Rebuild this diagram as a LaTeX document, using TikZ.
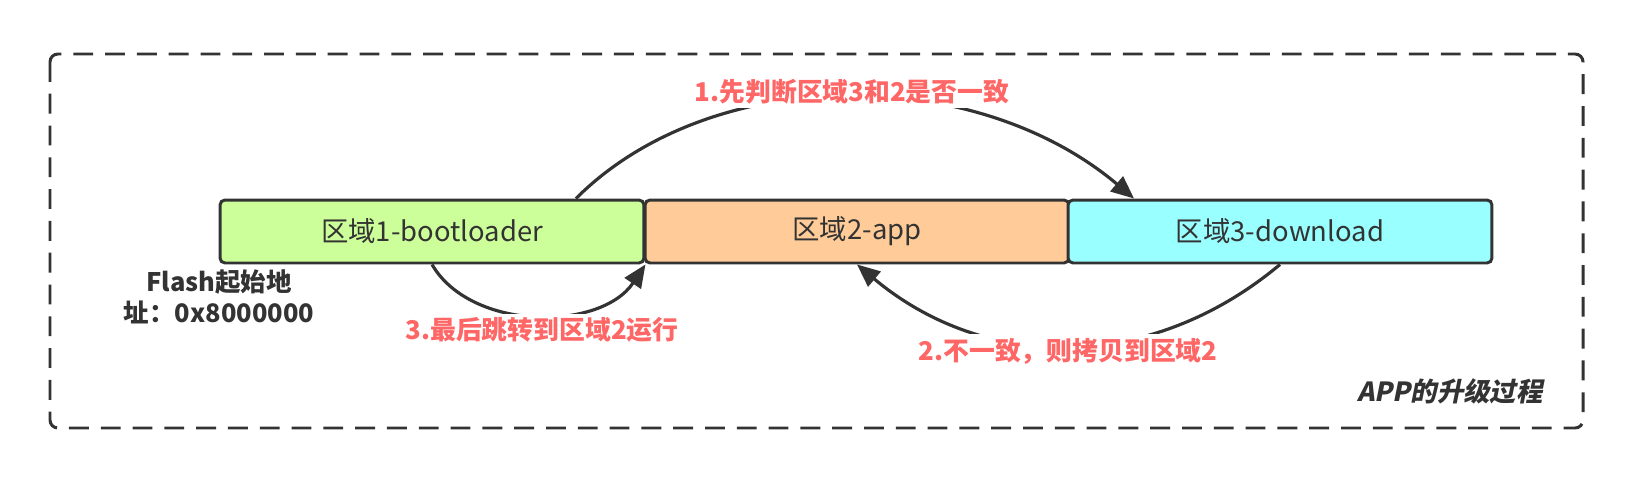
\documentclass[tikz,border=0pt]{standalone}
\usepackage{fontspec}
\setmainfont{Noto Sans CJK SC}
\newfontfamily\titlefont[FakeSlant=0.2]{Noto Sans CJK SC}
\usetikzlibrary{arrows.meta}
\definecolor{darkline}{HTML}{333333}
\definecolor{notered}{HTML}{FF6666}
\definecolor{zonegreen}{HTML}{CCFF99}
\definecolor{zoneorange}{HTML}{FFCC99}
\definecolor{zonecyan}{HTML}{99FFFF}
\begin{document}
\begin{tikzpicture}[x=0.02cm, y=0.02cm, every node/.style={font=\fontsize{15.6}{18}\selectfont, text=darkline}]
        \tikzstyle{zone} = [rectangle, draw=darkline, rounded corners=2.8pt, minimum width=8.48cm, minimum height=1.26cm, line width=1.7pt, inner sep=0pt]
        \tikzstyle{arrow} = [line width=1.8pt, draw=darkline, ->, >={Triangle[length=13pt,width=11pt]}]
        \tikzstyle{note} = [text=notered, font=\fontsize{14.7}{18}\selectfont\bfseries, fill=white, inner sep=2pt]

        \useasboundingbox (0,0) rectangle (1634,478);
        \draw [darkline, line width=1.7pt, dash pattern=on 11.3pt off 6.8pt, rounded corners=4.5pt] (50,424) rectangle (1583,50);

        \node [zone, fill=zonegreen]  (boot)     at (432,246.5)  {区域1-bootloader};
        \node [zone, fill=zoneorange] (app)      at (857,246.5)  {区域2-app};
        \node [zone, fill=zonecyan]   (download) at (1280,246.5) {区域3-download};

        \node [font=\fontsize{14.5}{17.6}\selectfont\bfseries, align=center] (flash) at (219,181) {Flash起始地\\址：0x8000000};
        \node [font=\fontsize{15}{18}\titlefont\bfseries] (title) at (1450,87) {APP的升级过程};

        \draw [arrow] ([xshift=2.88cm]boot.north) .. controls +(135,135) and +(-160,135) .. ([xshift=-2.92cm]download.north);
        \draw [arrow] (download.south) .. controls +(-129,-108) and +(129,-108) .. (app.south);
        \draw [arrow] (boot.south) .. controls +(39,-67) and +(-45,-67) .. (boot.south east);

        \node [note] (check) at (852,386) {1.先判断区域3和2是否一致};
        \node [note] (copy)  at (1068,127) {2.不一致，则拷贝到区域2};
        \node [note] (jump)  at (542,148) {3.最后跳转到区域2运行};
    \end{tikzpicture}
\end{document}
